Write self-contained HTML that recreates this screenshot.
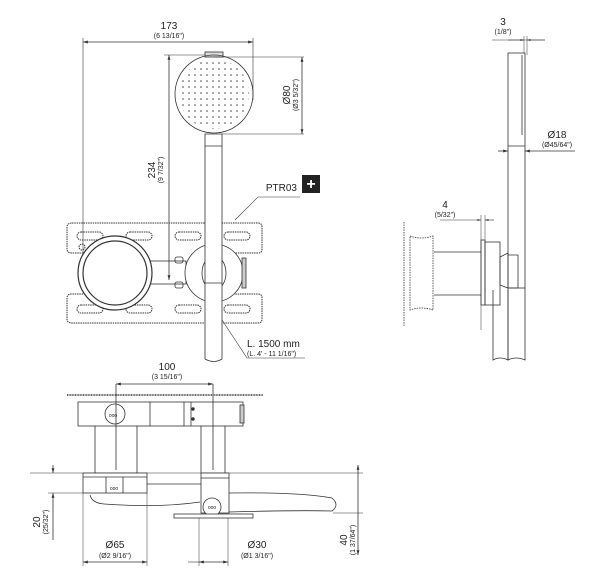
<!DOCTYPE html>
<html><head><meta charset="utf-8"><style>
html,body{margin:0;padding:0;background:#fff}
svg{display:block}
text{font-family:"Liberation Sans",sans-serif;fill:#222}
.t{font-size:10px}
.s{font-size:7px}
</style></head><body>
<svg width="610" height="583" viewBox="0 0 610 583" xmlns="http://www.w3.org/2000/svg">
<defs>
<marker id="a" viewBox="0 0 10 10" refX="10" refY="5" markerWidth="6" markerHeight="6" orient="auto-start-reverse"><path d="M0,2 L10,5 L0,8z" fill="#333"/></marker>
<pattern id="dots" width="6" height="6" patternUnits="userSpaceOnUse"><circle cx="3" cy="3" r="0.8" fill="#444"/></pattern>
</defs>
<g fill="none" stroke="#333" stroke-width="0.8">
<line x1="83" y1="42" x2="253" y2="42" marker-start="url(#a)" marker-end="url(#a)"/>
<line x1="83" y1="38" x2="83" y2="268" stroke-width="0.6"/>
<line x1="253" y1="38" x2="253" y2="100" stroke-width="0.6"/>
<rect x="205" y="52" width="18" height="5" fill="#ddd"/>
<circle cx="214" cy="94" r="39"/>
<circle cx="214" cy="94" r="35" fill="url(#dots)" stroke="none"/>
<line x1="214" y1="57" x2="304" y2="57" stroke-width="0.6"/>
<line x1="222" y1="134" x2="304" y2="134" stroke-width="0.6"/>
<line x1="302" y1="57" x2="302" y2="134" marker-start="url(#a)" marker-end="url(#a)"/>
<line x1="169" y1="55" x2="169" y2="280" marker-start="url(#a)" marker-end="url(#a)"/>
<line x1="164" y1="55" x2="205" y2="55" stroke-width="0.6"/>
<g stroke-dasharray="1.5 0.8" stroke="#333" stroke-width="1">
<path d="M72,223 H258 Q262,223 262,227 V249 Q262,253 258,253 H205 V294 H258 Q262,294 262,298 V319 Q262,323 258,323 H72 Q67,323 67,319 V298 Q67,294 72,294 H85 V253 H72 Q67,253 67,249 V227 Q67,223 72,223Z"/>
<rect x="77" y="232" width="26" height="8" rx="4"/><rect x="126" y="232" width="26" height="8" rx="4"/><rect x="175" y="232" width="26" height="8" rx="4"/><rect x="224" y="232" width="26" height="8" rx="4"/>
<rect x="77" y="305" width="26" height="8" rx="4"/><rect x="126" y="305" width="26" height="8" rx="4"/><rect x="175" y="305" width="26" height="8" rx="4"/><rect x="224" y="305" width="26" height="8" rx="4"/>
<circle cx="82" cy="247" r="3"/>
</g>
<rect x="150" y="261" width="36" height="23"/>
<rect x="175" y="257" width="8" height="6" rx="2"/><rect x="175" y="282" width="8" height="6" rx="2"/>
<circle cx="115" cy="273" r="37" fill="#fff" stroke-width="1.2"/>
<circle cx="115" cy="273" r="32" stroke-width="1.2"/>
<circle cx="214" cy="273" r="29" fill="#fff"/>
<ellipse cx="214" cy="273" rx="12" ry="17"/>
<rect x="242" y="258" width="4" height="30" fill="#ccc"/>
<path d="M205,134 H222 V359 Q214,364 205,359Z" fill="#fff"/>
<line x1="205" y1="146" x2="222" y2="146"/>
<line x1="205" y1="283" x2="222" y2="283"/>
<polyline points="235,220 258,197 300,197" stroke-width="0.6"/>
<polyline points="222,320 247,358 305,358" stroke-width="0.6"/>
<line x1="508" y1="40" x2="524" y2="40" marker-end="url(#a)" stroke-width="0.6"/>
<line x1="545" y1="40" x2="527" y2="40" marker-end="url(#a)" stroke-width="0.6"/>
<line x1="492" y1="40" x2="545" y2="40" stroke-width="0.5"/>
<line x1="524" y1="36" x2="524" y2="55" stroke-width="0.5"/><line x1="527" y1="36" x2="527" y2="55" stroke-width="0.5"/>
<rect x="508" y="53" width="17" height="235" fill="#fff"/>
<line x1="522" y1="55" x2="522" y2="135"/>
<line x1="508" y1="146" x2="525" y2="146"/>
<line x1="498" y1="151" x2="508" y2="151" marker-end="url(#a)"/>
<line x1="575" y1="151" x2="525" y2="151" marker-end="url(#a)"/>
<line x1="440" y1="220" x2="481" y2="220" marker-end="url(#a)" stroke-width="0.6"/>
<line x1="494" y1="220" x2="485" y2="220" marker-end="url(#a)" stroke-width="0.6"/>
<line x1="481" y1="215" x2="481" y2="330" stroke-width="0.5"/><line x1="485" y1="215" x2="485" y2="245" stroke-width="0.5"/>
<line x1="404" y1="222" x2="404" y2="326" stroke-dasharray="1.5 1"/>
<path d="M410,236 Q421,240 433,236 V310 Q421,306 410,310Z" stroke-dasharray="1.5 1"/>
<line x1="434" y1="252" x2="481" y2="252"/><line x1="434" y1="295" x2="481" y2="295"/>
<rect x="481" y="240" width="4" height="65"/>
<rect x="485" y="242" width="15" height="63"/>
<path d="M500,257 L508,253 V288 L500,285Z"/>
<path d="M508,255 H518 V288 H508"/>
<path d="M493,290 V360 Q500,356 508,360 V290"/>
<path d="M508,288 V360 Q516,356 525,360 V288"/>
<line x1="116" y1="384" x2="213" y2="384" marker-start="url(#a)" marker-end="url(#a)"/>
<line x1="67" y1="395" x2="263" y2="395" stroke-width="2" stroke-dasharray="1 0.6" stroke="#666"/>
<rect x="78" y="402" width="165" height="24" fill="#fff"/>
<line x1="150" y1="402" x2="150" y2="426"/><line x1="184" y1="402" x2="184" y2="426"/><line x1="191" y1="402" x2="191" y2="426"/>
<circle cx="115" cy="414" r="10"/>
<circle cx="193" cy="409" r="1.3" fill="#333"/><circle cx="193" cy="419" r="1.3" fill="#333"/>
<rect x="240" y="405" width="4" height="18" fill="#ccc"/>
<line x1="95" y1="426" x2="95" y2="473"/><line x1="137" y1="426" x2="137" y2="473"/>
<line x1="201" y1="426" x2="201" y2="473"/><line x1="225" y1="426" x2="225" y2="473"/>
<line x1="116" y1="384" x2="116" y2="470"/><line x1="213" y1="384" x2="213" y2="470"/>
<line x1="30" y1="473" x2="363" y2="473" stroke-width="0.6"/>
<rect x="83" y="473" width="64" height="20" fill="#fff"/>
<line x1="83" y1="477" x2="147" y2="477"/>
<line x1="106" y1="477" x2="106" y2="493"/><line x1="123" y1="477" x2="123" y2="493"/>
<path d="M90,495 Q92,503 104,504 Q160,508 200,502 M229,493 Q300,492 332,498 Q340,505 332,511 Q300,510 229,512"/>
<line x1="147" y1="484" x2="201" y2="484"/>
<rect x="201" y="473" width="28" height="40" fill="#fff"/>
<line x1="201" y1="478" x2="229" y2="478"/>
<circle cx="212" cy="507" r="9" fill="#fff"/>
<rect x="174" y="514" width="79" height="4" fill="#fff"/>
<line x1="53" y1="465" x2="53" y2="473" marker-end="url(#a)"/>
<line x1="53" y1="540" x2="53" y2="493" marker-end="url(#a)"/>
<line x1="48" y1="493" x2="83" y2="493" stroke-width="0.5"/>
<line x1="358" y1="465" x2="358" y2="555" marker-start="url(#a)" marker-end="url(#a)"/>
<line x1="333" y1="513" x2="363" y2="513" stroke-width="0.5"/>
<line x1="83" y1="493" x2="83" y2="566" stroke-width="0.5"/><line x1="147" y1="493" x2="147" y2="566" stroke-width="0.5"/>
<line x1="83" y1="562" x2="147" y2="562" marker-start="url(#a)" marker-end="url(#a)"/>
<line x1="199" y1="518" x2="199" y2="566" stroke-width="0.5"/><line x1="228" y1="518" x2="228" y2="566" stroke-width="0.5"/>
<line x1="188" y1="562" x2="199" y2="562" stroke-width="0.6"/><line x1="199" y1="562" x2="228" y2="562" marker-start="url(#a)" marker-end="url(#a)"/>
</g>
<rect x="302" y="175" width="18" height="18" fill="#222"/>
<text x="311" y="189" text-anchor="middle" style="font-size:16px;font-weight:bold;fill:#fff">+</text>
<text x="169" y="29" class="t" text-anchor="middle">173</text>
<text x="169" y="38" class="s" text-anchor="middle">(6 13/16")</text>
<text x="297" y="191" class="t" text-anchor="end">PTR03</text>
<text x="247" y="347" class="t">L. 1500 mm</text>
<text x="247" y="356" class="s">(L. 4' - 11 1/16")</text>
<text transform="translate(290,95) rotate(-90)" class="t" text-anchor="middle">Ø80</text>
<text transform="translate(298,95) rotate(-90)" class="s" text-anchor="middle">(Ø3 5/32")</text>
<text transform="translate(155,170) rotate(-90)" class="t" text-anchor="middle">234</text>
<text transform="translate(163,170) rotate(-90)" class="s" text-anchor="middle">(9 7/32")</text>
<text x="503" y="25" class="t" text-anchor="middle">3</text>
<text x="503" y="34" class="s" text-anchor="middle">(1/8")</text>
<text x="557" y="138" class="t" text-anchor="middle">Ø18</text>
<text x="557" y="147" class="s" text-anchor="middle">(Ø45/64")</text>
<text x="445" y="208" class="t" text-anchor="middle">4</text>
<text x="445" y="217" class="s" text-anchor="middle">(5/32")</text>
<text x="167" y="370" class="t" text-anchor="middle">100</text>
<text x="167" y="379" class="s" text-anchor="middle">(3 15/16")</text>
<text x="115" y="548" class="t" text-anchor="middle">Ø65</text>
<text x="115" y="558" class="s" text-anchor="middle">(Ø2 9/16")</text>
<text x="257" y="548" class="t" text-anchor="middle">Ø30</text>
<text x="257" y="558" class="s" text-anchor="middle">(Ø1 3/16")</text>
<text transform="translate(40,522) rotate(-90)" class="t" text-anchor="middle">20</text>
<text transform="translate(48,522) rotate(-90)" class="s" text-anchor="middle">(25/32")</text>
<text transform="translate(347,540) rotate(-90)" class="t" text-anchor="middle">40</text>
<text transform="translate(355,540) rotate(-90)" class="s" text-anchor="middle">(1 37/64")</text>
<text x="113" y="417" style="font-size:5px" text-anchor="middle">ooo</text>
<text x="114" y="490" style="font-size:5px" text-anchor="middle">ooo</text>
<text x="212" y="509" style="font-size:5px" text-anchor="middle">ooo</text>
</svg>
</body></html>
